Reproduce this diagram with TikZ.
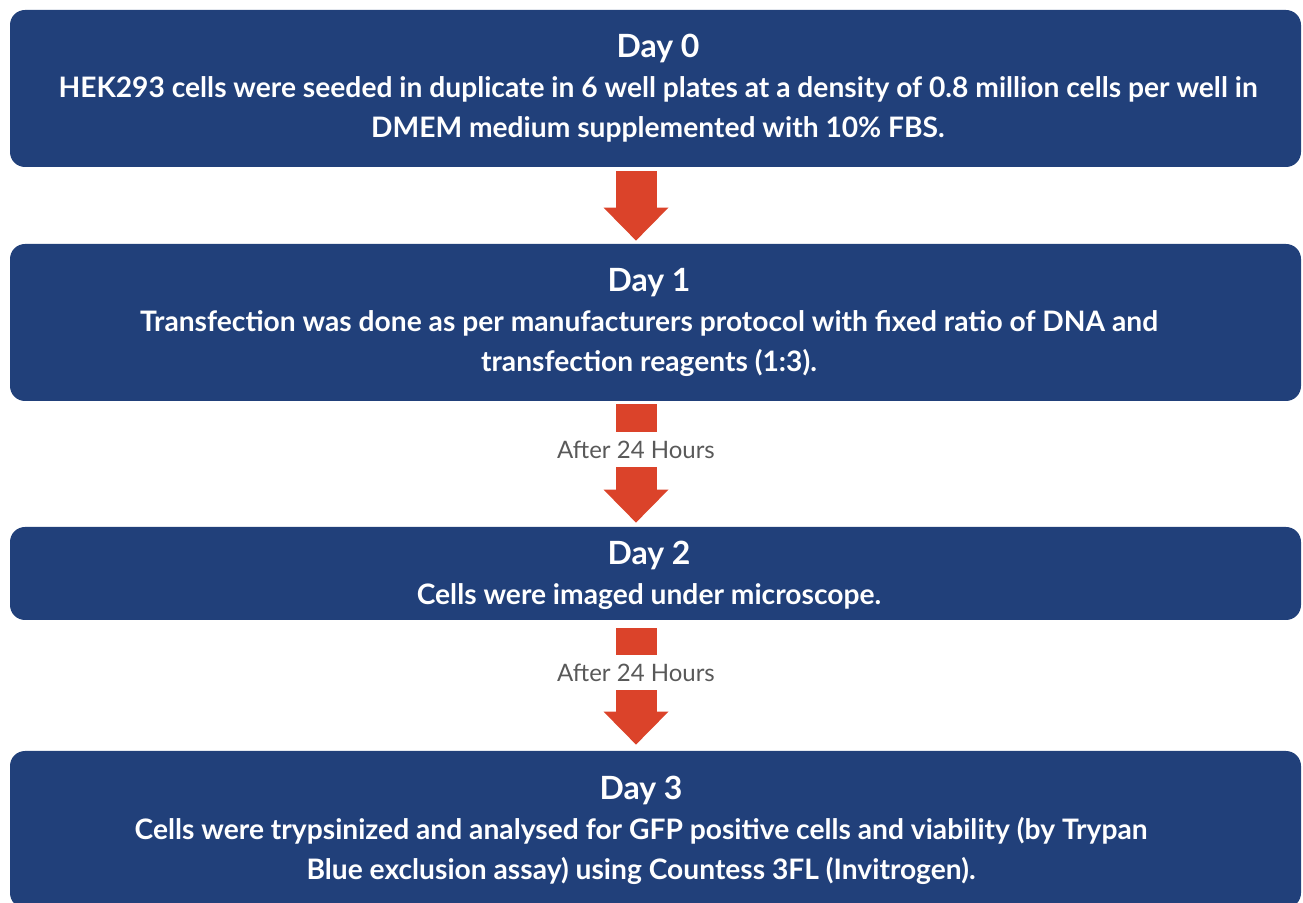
\documentclass[tikz,border=0pt]{standalone}
\usepackage{fontspec}
\setmainfont{Lato}
\usetikzlibrary{arrows.meta,positioning,calc}
\definecolor{darkblue}{RGB}{33,64,122}
\definecolor{arrowred}{RGB}{219,67,42}
\definecolor{labelgray}{RGB}{89,89,89}

\begin{document}
\begin{tikzpicture}[x=0.5pt,y=-0.5pt,
    daybox/.style={fill=darkblue, rounded corners=7.5pt, minimum width=645.5pt, inner sep=0pt},
    daytext/.style={text=white, align=center, inner sep=0pt, font=\bfseries\fontsize{14.1}{20}\selectfont},
    flow/.style={arrowred, line width=20.5pt},
    flowtip/.style={flow, -{Triangle[width=32.5pt,length=16.5pt,line width=0pt]}},
    waitlabel/.style={labelgray, inner sep=0pt, minimum height=17.5pt, font=\fontsize{12}{14}\selectfont}]
    \clip (0,0) rectangle (1303,903);
    % the four days
    \node[daybox, minimum height=78.5pt] (d0) at (655.5,88.5) {};
    \node[daybox, minimum height=78.5pt] (d1) at (655.5,322.5) {};
    \node[daybox, minimum height=46.5pt] (d2) at (655.5,573.5) {};
    \node[daybox, minimum height=78.5pt] (d3) at (655.5,829.5) {};
    \node[daytext] (t0) at (658,88) {{\fontsize{16}{20}\selectfont Day 0}\\
        HEK293 cells were seeded in duplicate in 6 well plates at a density of 0.8 million cells per well in\\
        DMEM medium supplemented with 10\% FBS.};
    \node[daytext] (t1) at (649,322) {{\fontsize{16}{20}\selectfont Day 1}\\
        Transfection was done as per manufacturers protocol with fixed ratio of DNA and\\
        transfection reagents (1:3).};
    \node[daytext] (t2) at (649,575) {{\fontsize{16}{20}\selectfont Day 2}\\
        Cells were imaged under microscope.};
    \node[daytext] (t3) at (641,830) {{\fontsize{16}{20}\selectfont Day 3}\\
        Cells were trypsinized and analysed for GFP positive cells and viability (by Trypan\\
        Blue exclusion assay) using Countess 3FL (Invitrogen).};
    % waiting times
    \node[waitlabel] (w1) at (636,449.5) {After 24 Hours};
    \node[waitlabel] (w2) at (636,672.5) {After 24 Hours};
    % arrows
    \draw[flowtip, shorten <=2pt, shorten >=1.5pt] (d0.south -| w1) -- (d1.north -| w1);
    \draw[flow, shorten <=1.5pt] (d1.south -| w1) -- (w1.north);
    \draw[flowtip, shorten >=2pt] (w1.south) -- (d2.north -| w1);
    \draw[flow, shorten <=4pt] (d2.south -| w2) -- (w2.north);
    \draw[flowtip, shorten >=3pt] (w2.south) -- (d3.north -| w2);
\end{tikzpicture}
\end{document}
